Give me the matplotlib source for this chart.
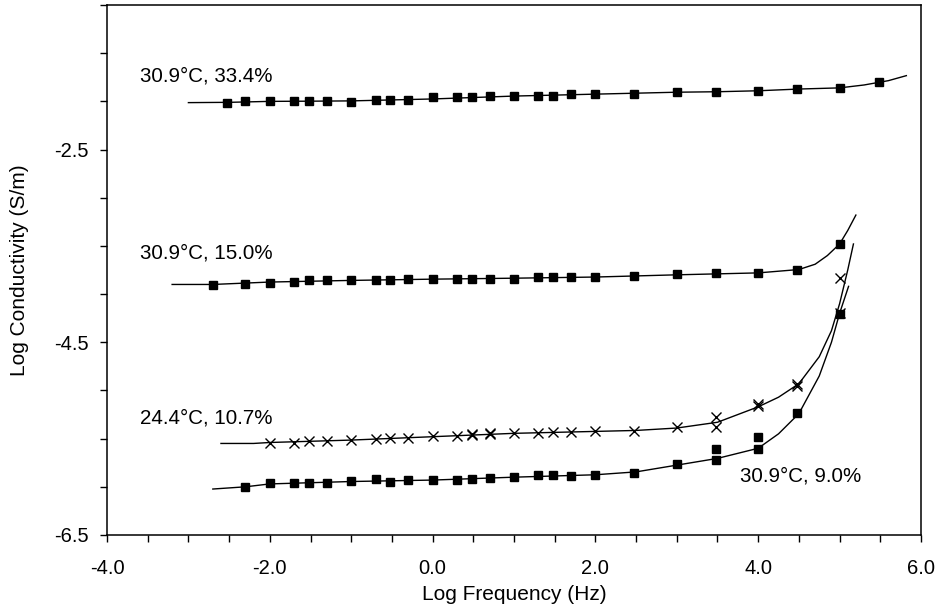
import numpy as np
import matplotlib
matplotlib.use("Agg")
import matplotlib.pyplot as plt
from matplotlib.ticker import MultipleLocator, FormatStrFormatter

plt.rcParams['font.family'] = ['Liberation Sans', 'DejaVu Sans']

# --- measured points (log frequency, log conductivity) ---
x1 = [-2.52, -2.3, -2.0, -1.7, -1.52, -1.3, -1.0, -0.7, -0.52, -0.3, 0.0, 0.3, 0.48,
      0.7, 1.0, 1.3, 1.48, 1.7, 2.0, 2.48, 3.0, 3.48, 4.0, 4.48, 5.0, 5.48]
y1 = [-2.016, -2.0, -2.0, -2.0, -2.0, -2.0, -2.003, -1.982, -1.982, -1.985, -1.958, -1.958,
      -1.958, -1.94, -1.94, -1.94, -1.94, -1.923, -1.923, -1.923, -1.906, -1.906, -1.889,
      -1.871, -1.861, -1.803]

x2 = [-2.7, -2.3, -2.0, -1.7, -1.52, -1.3, -1.0, -0.7, -0.52, -0.3, 0.0, 0.3, 0.48,
      0.7, 1.0, 1.3, 1.48, 1.7, 2.0, 2.48, 3.0, 3.48, 4.0, 4.48, 5.0]
y2 = [-3.909, -3.892, -3.881, -3.875, -3.858, -3.858, -3.858, -3.858, -3.858, -3.847, -3.84,
      -3.84, -3.84, -3.84, -3.84, -3.823, -3.823, -3.823, -3.823, -3.813, -3.795, -3.782,
      -3.782, -3.747, -3.477]

x3 = [-2.0, -1.7, -1.52, -1.3, -1.0, -0.7, -0.52, -0.3, 0.0, 0.3, 0.48, 0.48, 0.7, 0.7,
      1.0, 1.3, 1.48, 1.7, 2.0, 2.48, 3.0, 3.48, 3.48, 4.0, 4.0, 4.48, 4.48, 5.0, 5.0]
y3 = [-5.55, -5.544, -5.526, -5.526, -5.516, -5.508, -5.492, -5.492, -5.474, -5.474, -5.464,
      -5.456, -5.453, -5.446, -5.44, -5.44, -5.43, -5.43, -5.422, -5.419, -5.384, -5.384,
      -5.28, -5.143, -5.163, -4.936, -4.956, -3.83, -4.199]

x4 = [-2.3, -2.0, -1.7, -1.52, -1.3, -1.0, -0.7, -0.52, -0.3, 0.0, 0.3, 0.48, 0.7, 1.0,
      1.3, 1.48, 1.7, 2.0, 2.48, 3.0, 3.48, 3.48, 4.0, 4.0, 4.48, 5.0]
y4 = [-5.999, -5.964, -5.958, -5.964, -5.964, -5.944, -5.923, -5.948, -5.93, -5.93, -5.93,
      -5.92, -5.912, -5.896, -5.878, -5.878, -5.889, -5.878, -5.861, -5.767, -5.723, -5.612,
      -5.612, -5.481, -5.239, -4.203]

# --- fitted curves ---
c1x = [-3.0, -2.5, -2.0, -1.5, -1.0, -0.5, 0.0, 0.5, 1.0, 1.5, 2.0, 2.5, 3.0, 3.5, 4.0,
       4.5, 5.0, 5.3, 5.6, 5.82]
c1y = [-2.013, -2.01, -2.0, -1.998, -1.995, -1.985, -1.975, -1.96, -1.945, -1.935, -1.925,
       -1.915, -1.905, -1.9, -1.89, -1.872, -1.86, -1.83, -1.785, -1.733]

c2x = [-3.2, -2.7, -2.0, -1.0, 0.0, 1.0, 2.0, 3.0, 3.5, 4.0, 4.5, 4.7, 4.85, 5.0, 5.1, 5.2]
c2y = [-3.9, -3.9, -3.875, -3.858, -3.845, -3.835, -3.823, -3.8, -3.79, -3.78, -3.745,
       -3.69, -3.6, -3.48, -3.34, -3.18]

c3x = [-2.6, -2.2, -2.0, -1.0, 0.0, 1.0, 2.0, 2.5, 3.0, 3.5, 4.0, 4.25, 4.5, 4.75, 4.9,
       5.0, 5.1, 5.17]
c3y = [-5.55, -5.55, -5.54, -5.515, -5.48, -5.445, -5.425, -5.415, -5.39, -5.33, -5.17,
       -5.07, -4.93, -4.65, -4.38, -4.1, -3.75, -3.48]

c4x = [-2.7, -2.3, -2.0, -1.0, 0.0, 1.0, 2.0, 2.5, 3.0, 3.5, 4.0, 4.25, 4.5, 4.75, 4.9,
       5.0, 5.11]
c4y = [-6.023, -6.0, -5.97, -5.945, -5.93, -5.9, -5.875, -5.845, -5.775, -5.705, -5.6,
       -5.45, -5.24, -4.85, -4.5, -4.2, -3.92]

labels = ["30.9\u00b0C, 33.4%", "30.9\u00b0C, 15.0%", "24.4\u00b0C, 10.7%", "30.9\u00b0C, 9.0%"]
label_pos = [(-3.59, -1.733), (-3.59, -3.578), (-3.59, -5.288), (3.78, -5.889)]

fig = plt.figure(figsize=(9.42, 6.11), dpi=100)
ax = fig.add_axes([0.1136, 0.1244, 0.8641, 0.8674])

for cx, cy in [(c1x, c1y), (c2x, c2y), (c3x, c3y), (c4x, c4y)]:
    ax.plot(cx, cy, color='black', lw=1.0)

sq = dict(ls='none', marker='s', ms=5.5, color='black')
ax.plot(x1, y1, **sq)
ax.plot(x2, y2, **sq)
ax.plot(x4, y4, **sq)
ax.plot(x3, y3, ls='none', marker='x', ms=7.5, mew=1.0, color='black')

for txt, (tx, ty) in zip(labels, label_pos):
    ax.text(tx, ty, txt, fontsize=14.8, va='center', ha='left')

ax.set_xlim(-4, 6)
ax.set_ylim(-6.5, -1.0)
ax.xaxis.set_major_locator(MultipleLocator(2))
ax.xaxis.set_minor_locator(MultipleLocator(0.5))
ax.yaxis.set_minor_locator(MultipleLocator(0.5))
ax.set_yticks([-6.5, -4.5, -2.5])
ax.xaxis.set_major_formatter(FormatStrFormatter('%.1f'))
ax.yaxis.set_major_formatter(FormatStrFormatter('%.1f'))
ax.tick_params(which='both', direction='out', length=5, width=1.0, labelsize=14.5)
ax.tick_params(axis='x', pad=12)
ax.tick_params(axis='y', pad=8)
for s in ax.spines.values():
    s.set_linewidth(1.1)

ax.set_xlabel("Log Frequency (Hz)", fontsize=15, labelpad=5)
ax.set_ylabel("Log Conductivity (S/m)", fontsize=15, labelpad=18)

fig.savefig("out.png", dpi=100)
